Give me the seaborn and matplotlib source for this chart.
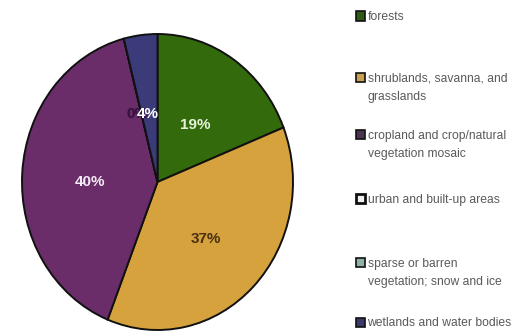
import matplotlib
matplotlib.use("Agg")
import matplotlib.pyplot as plt
import matplotlib.patches as mpatches
import seaborn as sns

categories = [
    "forests",
    "shrublands, savanna, and\ngrasslands",
    "cropland and crop/natural\nvegetation mosaic",
    "urban and built-up areas",
    "sparse or barren\nvegetation; snow and ice",
    "wetlands and water bodies",
]
values = [19, 37, 40, 0, 0, 4]
slice_colors = ["#336a0c", "#d6a23e", "#6a2d6a", "#ffffff", "#8fb0a8", "#3b3b7a"]
legend_colors = ["#2c5a12", "#c8a050", "#4a3450", "#f0f0f0", "#8fb0a8", "#3a3a6a"]
label_colors = ["#e6f2dc", "#4a3010", "#f4eaf4", "#3a1440", "#3a1440", "#ffffff"]

sns.set_style("white")
plt.rcParams["font.family"] = ["Liberation Sans", "DejaVu Sans"]

W, H = 525, 332
fig = plt.figure(figsize=(W / 100, H / 100), dpi=100)
fig.patch.set_facecolor("white")

# pie axes: centre (157.5, 182) px, radii 135.5 x 148 px
cx, cy, rx, ry = 157.5, 182.0, 135.5, 148.0
m = 1.03
ax = fig.add_axes([(cx - rx * m) / W, (H - cy - ry * m) / H, 2 * rx * m / W, 2 * ry * m / H])

palette = sns.color_palette(slice_colors)
wedges, texts, autotexts = ax.pie(
    values,
    colors=palette,
    startangle=90,
    counterclock=False,
    autopct=lambda p: f"{p:.0f}%",
    pctdistance=0.5,
    wedgeprops=dict(edgecolor="#111111", linewidth=1.4),
    textprops=dict(fontsize=11, fontweight="bold"),
)
ax.set_aspect("auto")
ax.set_xlim(-m, m)
ax.set_ylim(-m, m)
ax.axis("off")

for t, c in zip(autotexts, label_colors):
    t.set_color(c)
    x, y = t.get_position()
    t.set_position((x, y - 0.03))
# small slices: labels crowd together near the top
autotexts[3].set_position((-0.15, 0.46))
autotexts[4].set_position((-0.15, 0.46))
autotexts[5].set_position((-0.07, 0.46))
autotexts[5].set_zorder(10)

# legend
legend_y = [16, 77, 134, 198, 262, 322]
sq = 9
sq_x = 355.5
for lab, col, y in zip(categories, legend_colors, legend_y):
    lw = 2.0 if col == "#f0f0f0" else 1.2
    fig.add_artist(mpatches.Rectangle((sq_x / W, (H - y - sq / 2) / H), sq / W, sq / H,
                                      transform=fig.transFigure, facecolor=col,
                                      edgecolor="#111111", linewidth=lw))
    fig.text((sq_x + sq + 3) / W, (H - y + 4.5) / H, lab, fontsize=8.7, color="#5a5a5a",
             ha="left", va="top", linespacing=1.75)

fig.savefig("out.png", dpi=100)
